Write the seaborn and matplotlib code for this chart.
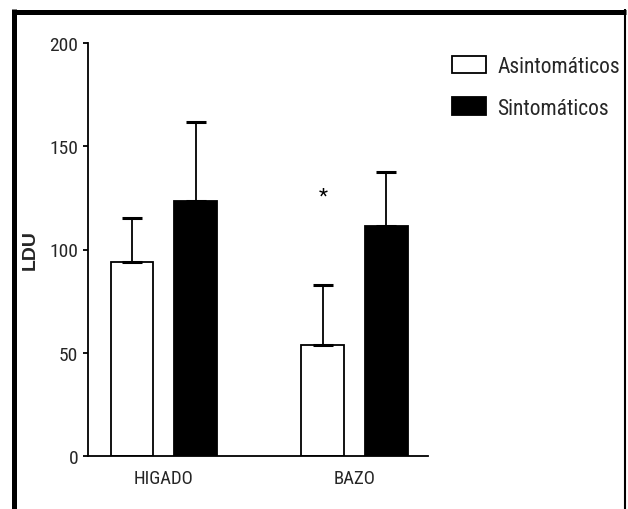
import matplotlib
matplotlib.use("Agg")
import matplotlib.pyplot as plt
import seaborn as sns
import pandas as pd
from matplotlib.lines import Line2D

# ---- data ----
organs = ["HIGADO", "BAZO"]
groups = ["Asintomáticos", "Sintomáticos"]
asint_means = [93.8, 53.9]
asint_errs = [21.5, 29.1]
sint_means = [123.3, 111.5]
sint_errs = [38.6, 26.2]
y_ticks = [0, 50, 100, 150, 200]
star_y = 126

df = pd.DataFrame({
    "organ": organs * 2,
    "group": [groups[0]] * 2 + [groups[1]] * 2,
    "value": asint_means + sint_means,
})
errs = {groups[0]: asint_errs, groups[1]: sint_errs}

sns.set_style("white")
plt.rcParams["font.family"] = ["Roboto Condensed", "Liberation Sans", "DejaVu Sans"]

fig = plt.figure(figsize=(6.28, 5.10), dpi=100)
ax = fig.add_axes([88 / 628, 1 - 457 / 510, 340 / 628, 413 / 510])

sns.barplot(data=df, x="organ", y="value", hue="group", order=organs,
            hue_order=groups, palette=["white", "black"], edgecolor="black",
            linewidth=1.3, width=0.666, gap=0.33, errorbar=None, ax=ax,
            legend=False)

for cont, g in zip(ax.containers, groups):
    xs = [p.get_x() + p.get_width() / 2 for p in cont]
    hs = [p.get_height() for p in cont]
    e = errs[g]
    ax.errorbar(xs, hs, yerr=[[0] * len(e), e], fmt="none", ecolor="black",
                elinewidth=1.3, capsize=7.5, capthick=2.2, zorder=1)

# asterisk over BAZO asymptomatic bar
bx = ax.containers[0][1]
ax.text(bx.get_x() + bx.get_width() / 2, star_y, "*", ha="center", va="center",
        fontsize=15, color="black")

ax.set_ylim(0, 200)
ax.set_xlim(-0.397, 1.385)
ax.set_yticks(y_ticks)
ax.set_yticklabels([str(t) for t in y_ticks])
ax.set_xlabel("")
ax.set_ylabel("")
for s in ["top", "right"]:
    ax.spines[s].set_visible(False)
for s in ["left", "bottom"]:
    ax.spines[s].set_linewidth(1.3)
    ax.spines[s].set_color("black")
ax.tick_params(axis="y", length=3.6, width=1.3, color="black", pad=3.5,
               labelsize=14, direction="out", left=True)
ax.tick_params(axis="x", length=0, pad=9.5, labelsize=13.5)

fig.text(30 / 628, 1 - 250 / 510, "LDU", rotation=90, ha="center", va="center",
         fontsize=14, fontweight="bold", family=["Liberation Sans", "DejaVu Sans"])

# legend
handles = [ax.containers[0][0], ax.containers[1][0]]
leg = ax.legend(handles, groups, loc="upper left",
                bbox_to_anchor=(452 / 628, 1 - 57 / 510),
                bbox_transform=fig.transFigure, frameon=False,
                fontsize=15.5, handlelength=1.6, handleheight=0.85,
                handletextpad=0.5, labelspacing=0.95, borderaxespad=0,
                borderpad=0)

# outer frame
fig.add_artist(Line2D([14.5 / 628, 14.5 / 628], [0, 1 - 10 / 510],
                      transform=fig.transFigure, color="black", linewidth=3.6,
                      solid_capstyle="butt"))
fig.add_artist(Line2D([12 / 628, 626 / 628], [1 - 12.5 / 510, 1 - 12.5 / 510],
                      transform=fig.transFigure, color="black", linewidth=3.6,
                      solid_capstyle="butt"))
fig.add_artist(Line2D([624.5 / 628, 624.5 / 628], [0, 1 - 10 / 510],
                      transform=fig.transFigure, color="black", linewidth=1.5,
                      solid_capstyle="butt"))

fig.savefig("out.png", dpi=100, facecolor="white")
